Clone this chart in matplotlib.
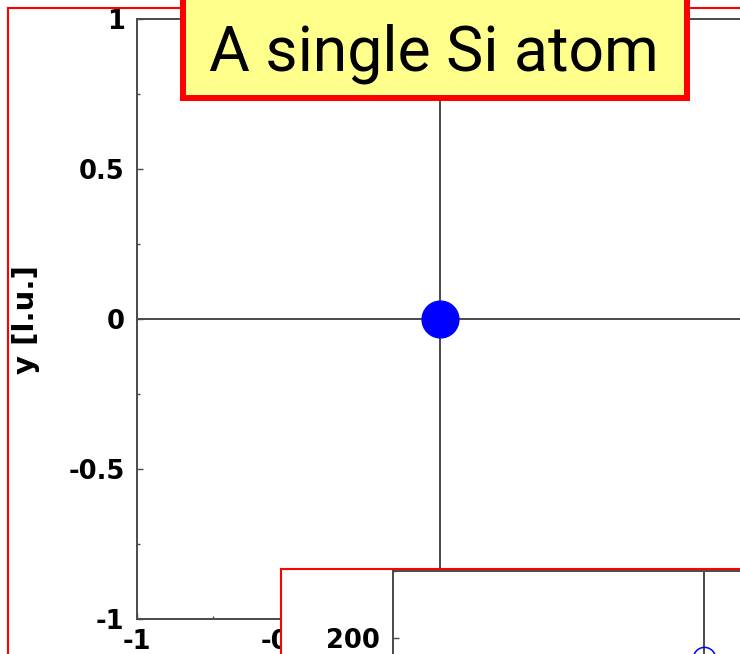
import matplotlib
matplotlib.use("Agg")
import matplotlib.pyplot as plt
from matplotlib.patches import Rectangle
from matplotlib.ticker import MultipleLocator

# Atom position in the cell (lattice units)
atom_x = [0.0]
atom_y = [0.0]
# Inset: single level of the isolated atom
level_k = [0.0]
level_E = [185.0]

main_ticks = [-1, -0.5, 0, 0.5, 1]
main_ticklabels = ["-1", "-0.5", "0", "0.5", "1"]
inset_ticks = [0, 100, 200]
inset_ticklabels = ["0", "100", "200"]

W, H = 740, 654
GRAY = "#4a4a4a"
RED = "#ff0000"


def box(l, t, r, b):
    """Pixel box (left, top, right, bottom) -> figure fraction rect."""
    return [l / W, 1 - b / H, (r - l) / W, (b - t) / H]


def fx(x):
    return x / W


def fy(y):
    return 1 - y / H


fig = plt.figure(figsize=(W / 100, H / 100), dpi=100)
fig.patch.set_facecolor("white")

tick_font = dict(family="DejaVu Sans", size=18.5, weight="bold")

# Outer slide frame
fig.add_artist(Rectangle((fx(8), fy(700)), fx(800), (700 - 8) / H,
                         transform=fig.transFigure, fill=False,
                         edgecolor=RED, linewidth=1.5, zorder=-1))

# Main panel
ax = fig.add_axes(box(137, 19.3, 743, 619), zorder=0)
ax.set_xlim(-1, 1)
ax.set_ylim(-1, 1)
ax.axvline(0, color=GRAY, lw=1.4, zorder=1)
ax.axhline(0, color=GRAY, lw=1.4, zorder=1)
ax.plot(atom_x, atom_y, "o", color="#0000ff", markersize=26.5, zorder=3)
ax.set_xticks(main_ticks)
ax.set_xticklabels(main_ticklabels, **tick_font)
ax.set_yticks(main_ticks)
ax.set_yticklabels(main_ticklabels, **tick_font)
ax.xaxis.set_minor_locator(MultipleLocator(0.25))
ax.yaxis.set_minor_locator(MultipleLocator(0.25))
ax.tick_params(which="both", direction="in", color=GRAY, width=1.0)
ax.tick_params(which="major", length=4.5)
ax.tick_params(which="minor", length=2.5)
ax.tick_params(axis="y", pad=9)
ax.tick_params(axis="x", pad=7)
for s in ax.spines.values():
    s.set_color(GRAY)
    s.set_linewidth(1.4)
ax.set_ylabel("y [l.u.]", family="DejaVu Sans", size=21, weight="bold",
              va="center")
ax.yaxis.set_label_coords((26 - 137) / (743 - 137), 0.5)

# Inset frame and panel
fig.add_artist(Rectangle((fx(280.7), fy(720)), fx(600), (720 - 569) / H,
                         transform=fig.transFigure, facecolor="white",
                         edgecolor=RED, linewidth=1.5, zorder=1))
ins = fig.add_axes(box(392.7, 570.7, 1015.3, 907.2), zorder=2)
ins.set_xlim(-1, 1)
ins.set_ylim(0, 250)
ins.axvline(0, color=GRAY, lw=1.4, zorder=1)
ins.plot(level_k, level_E, "o", mfc="none", mec="#0000ff", mew=1.1,
         markersize=16, zorder=3)
ins.set_xticks([])
ins.set_yticks(inset_ticks)
ins.set_yticklabels(inset_ticklabels, **tick_font)
ins.yaxis.set_minor_locator(MultipleLocator(50))
ins.tick_params(which="both", direction="in", color=GRAY, width=1.0)
ins.tick_params(which="major", length=4.5)
ins.tick_params(which="minor", length=2.5)
ins.tick_params(axis="y", pad=9)
for s in ins.spines.values():
    s.set_color(GRAY)
    s.set_linewidth(1.4)

# Title box
fig.add_artist(Rectangle((fx(183), fy(98)), fx(687 - 183), (98 + 30) / H,
                         transform=fig.transFigure, facecolor="#ffff8c",
                         edgecolor=RED, linewidth=4.3, zorder=3))
fig.text(fx(434), fy(71), "A single Si atom", ha="center", va="baseline",
         family="Roboto", size=45, color="black", zorder=4)

fig.savefig("out.png", dpi=100)
